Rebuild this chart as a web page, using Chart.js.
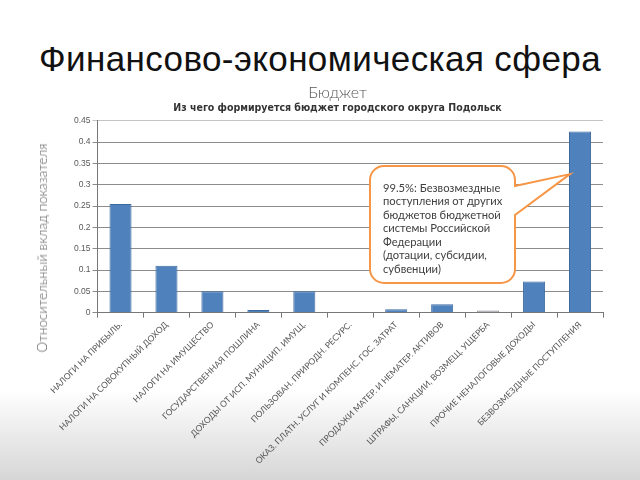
<!DOCTYPE html>
<html>
<head>
<meta charset="utf-8">
<script src="https://cdn.jsdelivr.net/npm/chart.js@4.4.0/dist/chart.umd.min.js"></script>
<style>
  html, body { margin: 0; padding: 0; }
  body {
    width: 640px; height: 480px; overflow: hidden; position: relative;
    background: linear-gradient(to bottom, #ffffff 0px, #ffffff 390px, #d6d6d6 480px);
  }
  #head {
    position: absolute; left: 0; top: 39px; width: 640px; text-align: center;
    font-family: "Liberation Sans", Arial, sans-serif; font-size: 35px; color: #111;
    line-height: 40px; letter-spacing: 0.4px;
  }
  #ytitle {
    position: absolute; left: 42px; top: 248px; white-space: nowrap;
    transform: translate(-50%, -50%) rotate(-90deg);
    font-family: Lato, sans-serif; font-weight: 300; font-size: 13.5px; color: #595959;
  }
  #wrap { position: absolute; left: 0; top: 0; width: 640px; height: 480px; }
</style>
</head>
<body>
<div id="head">Финансово-экономическая сфера</div>
<div id="wrap"><canvas id="budgetChart"></canvas></div>
<div id="ytitle">Относительный вклад показателя</div>
<script>
// категории доходов бюджета
const categories = [
  "НАЛОГИ НА ПРИБЫЛЬ.",
  "НАЛОГИ НА СОВОКУПНЫЙ ДОХОД",
  "НАЛОГИ НА ИМУЩЕСТВО",
  "ГОСУДАРСТВЕННАЯ ПОШЛИНА",
  "ДОХОДЫ ОТ ИСП. МУНИЦИП. ИМУЩ.",
  "ПОЛЬЗОВАН. ПРИРОДН. РЕСУРС.",
  "ОКАЗ. ПЛАТН. УСЛУГ И КОМПЕНС. ГОС. ЗАТРАТ",
  "ПРОДАЖИ МАТЕР. И НЕМАТЕР. АКТИВОВ",
  "ШТРАФЫ, САНКЦИИ, ВОЗМЕЩ. УЩЕРБА",
  "ПРОЧИЕ НЕНАЛОГОВЫЕ ДОХОДЫ",
  "БЕЗВОЗМЕЗДНЫЕ ПОСТУПЛЕНИЯ"
];
const shares = [0.255, 0.11, 0.05, 0.006, 0.05, 0.001, 0.008, 0.02, 0.005, 0.073, 0.425];

const yMin = 0, yMax = 0.45, yStep = 0.05;

// выноска
const calloutLines = [
  "99.5%: Безвозмездные",
  "поступления от других",
  "бюджетов бюджетной",
  "системы Российской",
  "Федерации",
  "(дотации, субсидии,",
  "субвенции)"
];
const calloutIndex = 10;
const calloutValue = 0.325;

const calloutPlugin = {
  id: 'callout',
  afterDatasetsDraw(chart) {
    const ctx = chart.ctx;
    const bar = chart.getDatasetMeta(0).data[calloutIndex];
    const tipX = bar.x - bar.width / 2 + 1;
    const tipY = chart.scales.y.getPixelForValue(calloutValue);
    const x1 = 370, y1 = 166, x2 = 515, y2 = 283, r = 14;
    const p1 = 186, p2 = 215;
    ctx.save();
    ctx.beginPath();
    ctx.moveTo(x1 + r, y1);
    ctx.lineTo(x2 - r, y1);
    ctx.arcTo(x2, y1, x2, y1 + r, r);
    ctx.lineTo(x2, p1);
    ctx.lineTo(tipX, tipY);
    ctx.lineTo(x2, p2);
    ctx.lineTo(x2, y2 - r);
    ctx.arcTo(x2, y2, x2 - r, y2, r);
    ctx.lineTo(x1 + r, y2);
    ctx.arcTo(x1, y2, x1, y2 - r, r);
    ctx.lineTo(x1, y1 + r);
    ctx.arcTo(x1, y1, x1 + r, y1, r);
    ctx.closePath();
    ctx.fillStyle = '#ffffff';
    ctx.fill();
    ctx.lineWidth = 2;
    ctx.strokeStyle = '#F79646';
    ctx.stroke();
    ctx.fillStyle = '#404040';
    ctx.font = '11.2px Lato';
    ctx.textBaseline = 'middle';
    calloutLines.forEach((t, i) => ctx.fillText(t, 383, 188 + i * 13.5));
    ctx.restore();
  }
};

new Chart(document.getElementById('budgetChart'), {
  type: 'bar',
  data: {
    labels: categories,
    datasets: [{
      data: shares,
      backgroundColor: shares.map((v, i) => i === 8 ? '#a7abb2' : '#4F81BD'),
      borderColor: shares.map((v, i) => i === 8 ? '#8a8a8a' : '#3d6a9e'),
      borderWidth: 1,
      barPercentage: 0.48,
      categoryPercentage: 1.0
    }]
  },
  options: {
    responsive: true,
    maintainAspectRatio: false,
    animation: false,
    layout: { padding: { top: 83, left: 72, right: 37, bottom: 12 } },
    plugins: {
      legend: { display: false },
      tooltip: { enabled: false },
      title: {
        display: true,
        text: 'Бюджет',
        color: '#595959',
        font: { family: 'Lato', size: 16, weight: 300 },
        padding: { top: 0, bottom: 0 }
      },
      subtitle: {
        display: true,
        text: 'Из чего формируется бюджет городского округа Подольск',
        color: '#333333',
        font: { family: "'DejaVu Sans Condensed', 'Liberation Sans', sans-serif", size: 10.5, weight: 'bold' },
        padding: { top: 0, bottom: 6 }
      }
    },
    scales: {
      y: {
        min: yMin,
        max: yMax,
        ticks: {
          stepSize: yStep, color: '#595959', font: { family: 'Liberation Sans', size: 8.5 }, padding: 2,
          callback: v => String(+v.toFixed(2))
        },
        grid: {
          color: c => c.index === 9 ? '#c4c4c4' : '#8c8c8c',
          tickLength: 5
        },
        border: { color: '#777777' }
      },
      x: {
        ticks: {
          autoSkip: false, minRotation: 45, maxRotation: 45,
          color: '#555555', font: { family: 'Lato', size: 8.5 }, padding: 2
        },
        grid: { drawOnChartArea: false, drawTicks: true, tickLength: 5, color: '#777777' },
        border: { color: '#777777' }
      }
    }
  },
  plugins: [calloutPlugin]
});
</script>
</body>
</html>
